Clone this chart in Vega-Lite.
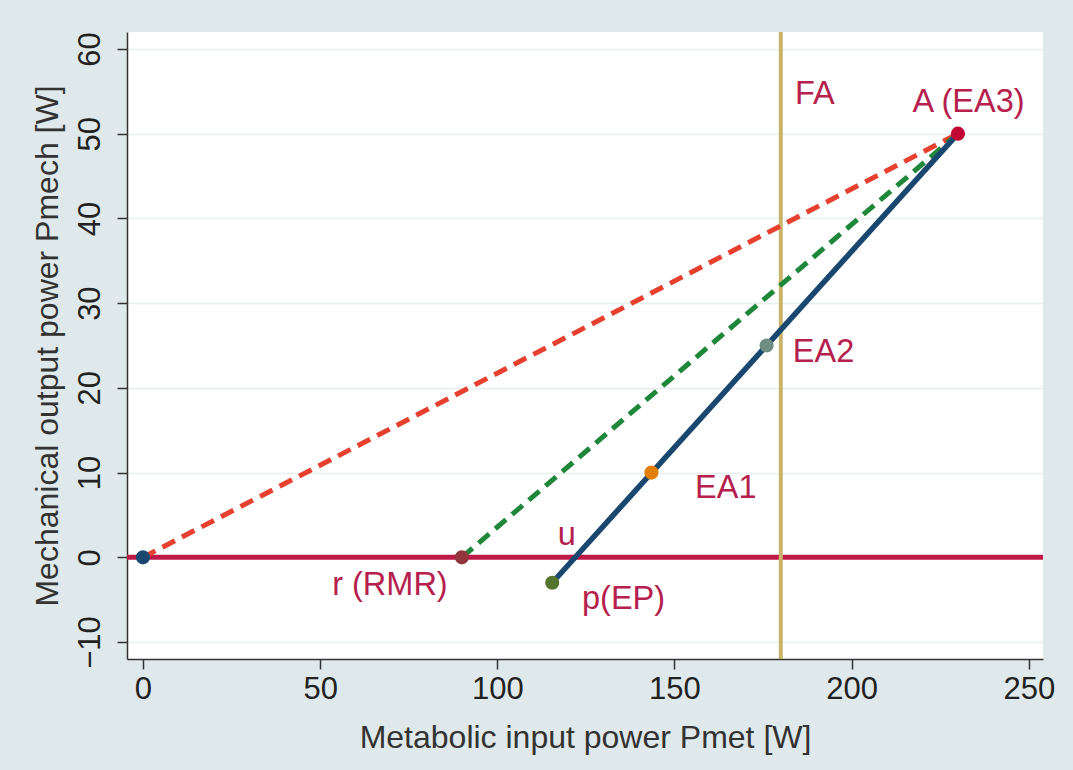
{
  "$schema": "https://vega.github.io/schema/vega-lite/v6.json",
  "width": 916,
  "height": 627,
  "autosize": {"type": "none"},
  "padding": {"left": 127, "top": 32, "right": 30, "bottom": 111},
  "background": "#dfe9eb",
  "config": {
    "view": {"fill": "white", "stroke": null},
    "font": "Liberation Sans",
    "axis": {
      "domainColor": "#333333",
      "domainWidth": 1.5,
      "tickColor": "#333333",
      "tickWidth": 1.5,
      "tickSize": 10,
      "labelColor": "#222222",
      "titleColor": "#333333",
      "labelFont": "Liberation Sans",
      "titleFont": "Liberation Sans",
      "labelFontSize": 31,
      "titleFontSize": 32,
      "titleFontWeight": "normal",
      "gridColor": "#e6eef0",
      "gridWidth": 1.5
    }
  },
  "datasets": {
    "zeroLine": [{"y": 0}],
    "faLine": [{"x": 180}],
    "redDash": [{"x": 0, "y": 0}, {"x": 230, "y": 50}],
    "greenDash": [{"x": 90, "y": 0}, {"x": 230, "y": 50}],
    "navyLine": [{"x": 115.5, "y": -3}, {"x": 230, "y": 50}],
    "points": [
      {"name": "origin", "x": 0, "y": 0},
      {"name": "r", "x": 90, "y": 0},
      {"name": "p", "x": 115.5, "y": -3},
      {"name": "EA1", "x": 143.5, "y": 10},
      {"name": "EA2", "x": 176, "y": 25},
      {"name": "A", "x": 230, "y": 50}
    ],
    "labelsLeft": [
      {"text": "FA", "x": 184, "y": 53.5},
      {"text": "EA2", "x": 183.4, "y": 23},
      {"text": "EA1", "x": 155.8, "y": 7},
      {"text": "p(EP)", "x": 123.9, "y": -6.1}
    ],
    "labelsCenter": [
      {"text": "A (EA3)", "x": 233, "y": 52.6},
      {"text": "u", "x": 119.6, "y": 1.4},
      {"text": "r (RMR)", "x": 69.7, "y": -4.5}
    ]
  },
  "layer": [
    {
      "data": {"name": "zeroLine"},
      "mark": {"type": "rule", "color": "#c1184a", "strokeWidth": 5},
      "encoding": {
        "y": {
          "field": "y", "type": "quantitative",
          "scale": {"domain": [-12, 62], "nice": false, "zero": false},
          "axis": {
            "values": [-10, 0, 10, 20, 30, 40, 50, 60],
            "grid": true,
            "labelAngle": 270,
            "labelAlign": "center",
            "labelBaseline": "alphabetic",
            "labelPadding": 18,
            "title": "Mechanical output power Pmech [W]",
            "titlePadding": 10
          }
        }
      }
    },
    {
      "data": {"name": "faLine"},
      "mark": {"type": "rule", "color": "#c8b46a", "strokeWidth": 4},
      "encoding": {
        "x": {
          "field": "x", "type": "quantitative",
          "scale": {"domain": [-4.5, 254], "nice": false, "zero": false},
          "axis": {
            "values": [0, 50, 100, 150, 200, 250],
            "grid": false,
            "labelPadding": 5,
            "title": "Metabolic input power Pmet [W]",
            "titlePadding": 18
          }
        }
      }
    },
    {
      "data": {"name": "redDash"},
      "mark": {"type": "line", "color": "#e8402e", "strokeWidth": 5, "strokeDash": [14, 8]},
      "encoding": {
        "x": {"field": "x", "type": "quantitative"},
        "y": {"field": "y", "type": "quantitative"}
      }
    },
    {
      "data": {"name": "greenDash"},
      "mark": {"type": "line", "color": "#1f873a", "strokeWidth": 5, "strokeDash": [14, 8]},
      "encoding": {
        "x": {"field": "x", "type": "quantitative"},
        "y": {"field": "y", "type": "quantitative"}
      }
    },
    {
      "data": {"name": "navyLine"},
      "mark": {"type": "line", "color": "#1a476f", "strokeWidth": 5.5},
      "encoding": {
        "x": {"field": "x", "type": "quantitative"},
        "y": {"field": "y", "type": "quantitative"}
      }
    },
    {
      "data": {"name": "points"},
      "mark": {"type": "circle", "size": 200, "opacity": 1},
      "encoding": {
        "x": {"field": "x", "type": "quantitative"},
        "y": {"field": "y", "type": "quantitative"},
        "color": {
          "field": "name", "type": "nominal",
          "scale": {
            "domain": ["origin", "r", "p", "EA1", "EA2", "A"],
            "range": ["#1a476f", "#90353b", "#55752f", "#e37e00", "#6e8e84", "#c10534"]
          },
          "legend": null
        }
      }
    },
    {
      "data": {"name": "labelsLeft"},
      "mark": {"type": "text", "fontSize": 32.5, "color": "#b5204c", "baseline": "alphabetic", "align": "left"},
      "encoding": {
        "x": {"field": "x", "type": "quantitative"},
        "y": {"field": "y", "type": "quantitative"},
        "text": {"field": "text"}
      }
    },
    {
      "data": {"name": "labelsCenter"},
      "mark": {"type": "text", "fontSize": 32.5, "color": "#b5204c", "baseline": "alphabetic", "align": "center"},
      "encoding": {
        "x": {"field": "x", "type": "quantitative"},
        "y": {"field": "y", "type": "quantitative"},
        "text": {"field": "text"}
      }
    }
  ]
}
